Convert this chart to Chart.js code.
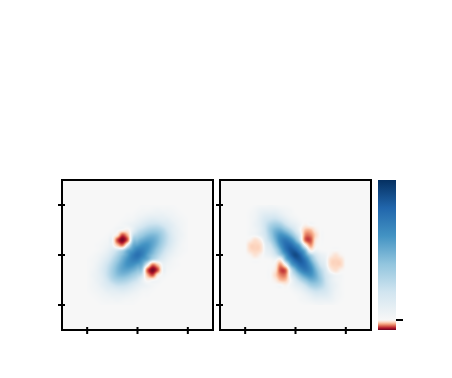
<!DOCTYPE html>
<html>
<head>
<meta charset="utf-8">
<title>Heatmaps</title>
<script src="https://cdn.jsdelivr.net/npm/chart.js@4"></script>
<style>
  body { margin: 0; background: #fff; }
  canvas { position: absolute; }
</style>
</head>
<body>
<canvas id="panelLeft" width="172" height="170" style="left:52px;top:170px;width:172px;height:170px"></canvas>
<canvas id="panelRight" width="172" height="170" style="left:210px;top:170px;width:172px;height:170px"></canvas>
<canvas id="colorBar" width="40" height="170" style="left:370px;top:170px;width:40px;height:170px"></canvas>
<script>
// axis ranges and ticks
const axisMin = -3;
const axisMax = 3;
const tickValues = [-2, 0, 2];

// sample positions of the grids below (rows go from top to bottom)
const gridX = [-2, -1.8, -1.6, -1.4, -1.2, -1, -0.8, -0.6, -0.4, -0.2, 0, 0.2, 0.4, 0.6, 0.8, 1, 1.2, 1.4, 1.6, 1.8, 2];
const gridY = [2, 1.8, 1.6, 1.4, 1.2, 1, 0.8, 0.6, 0.4, 0.2, 0, -0.2, -0.4, -0.6, -0.8, -1, -1.2, -1.4, -1.6, -1.8, -2];

// values: positive = blue, negative = red, 100 = end of the colour scale
const leftValues = [
  [0,0,0,0,0,0,0,0,0,0,0,1,1,1,1,1,1,1,0,0,0],
  [0,0,0,0,0,0,0,0,0,0,1,2,2,3,4,3,3,2,1,0,0],
  [0,0,0,0,0,0,0,0,1,1,3,4,6,7,7,7,5,4,2,1,0],
  [0,0,0,0,0,0,0,1,2,3,6,9,12,14,13,11,10,6,4,2,1],
  [0,0,0,0,0,0,1,2,4,7,11,16,21,23,23,19,14,10,5,3,1],
  [0,0,0,0,0,1,2,-3,-5,8,20,26,31,34,33,28,19,11,7,3,1],
  [0,0,0,0,1,2,-12,-65,-35,18,30,37,43,45,42,33,23,13,7,4,1],
  [0,0,0,1,2,2,-65,-95,-60,30,42,49,53,52,45,34,23,14,7,3,1],
  [0,0,1,2,4,4,-30,-55,3,46,54,60,60,53,43,31,21,12,6,2,1],
  [0,0,1,3,7,13,18,25,46,57,68,68,60,49,37,26,16,9,4,2,1],
  [0,1,3,6,11,20,30,42,54,68,75,68,54,42,30,20,11,6,3,1,0],
  [1,2,4,9,16,26,37,49,60,68,68,57,46,25,18,13,7,3,1,0,0],
  [1,2,6,12,21,31,43,53,60,60,54,46,3,-55,-30,4,4,2,1,0,0],
  [1,3,7,14,23,34,45,52,53,49,42,30,-60,-95,-65,2,2,1,0,0,0],
  [1,4,7,13,23,33,42,45,43,37,30,18,-35,-65,-12,2,1,0,0,0,0],
  [1,3,7,11,19,28,33,34,31,26,20,8,-5,-3,2,1,0,0,0,0,0],
  [1,3,5,10,14,19,23,23,21,16,11,7,4,2,1,0,0,0,0,0,0],
  [1,2,4,6,10,11,13,14,12,9,6,3,2,1,0,0,0,0,0,0,0],
  [0,1,2,4,5,7,7,7,6,4,3,1,1,0,0,0,0,0,0,0,0],
  [0,0,1,2,3,3,4,3,2,2,1,0,0,0,0,0,0,0,0,0,0],
  [0,0,0,1,1,1,1,1,1,1,0,0,0,0,0,0,0,0,0,0,0]
];

const rightValues = [
  [0,0,1,2,2,3,2,1,1,0,0,0,0,0,0,0,0,0,0,0,0],
  [0,1,3,6,7,7,7,5,3,2,0,0,0,0,0,0,0,0,0,0,0],
  [0,2,4,9,13,14,14,10,6,3,1,0,0,0,0,0,0,0,0,0,0],
  [0,2,5,11,18,22,24,20,13,7,4,1,0,0,0,0,0,0,0,0,0],
  [0,2,6,11,21,31,36,34,24,15,9,3,-5,0,0,0,0,0,0,0,0],
  [0,2,4,10,21,36,46,48,40,29,16,0,-30,-30,-8,0,0,0,0,0,0],
  [0,2,3,9,19,34,50,60,57,46,29,8,-50,-50,-20,0,0,0,0,0,0],
  [0,-5,-16,-6,15,29,47,65,72,64,46,15,-60,-65,-12,0,0,0,0,0,0],
  [0,-20,-22,-18,9,20,39,60,76,78,65,45,-5,-45,-5,0,0,0,0,0,0],
  [0,-18,-22,-18,6,13,28,49,72,84,81,64,40,-8,3,1,0,0,0,0,0],
  [0,-4,-14,-5,4,8,18,34,57,80,90,80,57,34,18,8,4,-5,-14,-4,0],
  [0,0,0,0,0,1,3,-8,40,64,81,84,72,49,28,13,6,-18,-22,-18,0],
  [0,0,0,0,0,0,-5,-45,-5,45,65,78,76,60,39,20,9,-18,-22,-20,0],
  [0,0,0,0,0,0,-12,-65,-60,15,46,64,72,65,47,29,15,-6,-16,-5,0],
  [0,0,0,0,0,0,-20,-50,-50,8,29,46,57,60,50,34,19,9,3,2,0],
  [0,0,0,0,0,0,-8,-30,-30,0,16,29,40,48,46,36,21,10,4,2,0],
  [0,0,0,0,0,0,0,0,-5,3,9,15,24,34,36,31,21,11,6,2,0],
  [0,0,0,0,0,0,0,0,0,1,4,7,13,20,24,22,18,11,5,2,0],
  [0,0,0,0,0,0,0,0,0,0,1,3,6,10,14,14,13,9,4,2,0],
  [0,0,0,0,0,0,0,0,0,0,0,2,3,5,7,7,7,6,3,1,0],
  [0,0,0,0,0,0,0,0,0,0,0,0,1,1,2,3,2,2,1,0,0]
];

// colour scale
const levelValues = [-100, -80, -60, -40, -20, 0, 20, 40, 60, 80, 100];
const levelColors = ['#67001f', '#b2182b', '#d6604d', '#f4a582', '#fddbc7', '#f7f7f7', '#d1e5f0', '#92c5de', '#4393c3', '#2166ac', '#053061'];

// colour bar range and tick
const barMin = -0.0714;
const barMax = 1;
const barTicks = [0];

const levelRgb = levelColors.map(c => [1, 3, 5].map(i => parseInt(c.slice(i, i + 2), 16)));

function colorFor(v) {
    const t = Math.max(0, Math.min(9.999, (v + 100) / 20));
    const i = Math.floor(t);
    const f = t - i;
    return levelRgb[i].map((c, k) => c + (levelRgb[i + 1][k] - c) * f);
}

// catmull-rom weights, same idea as imshow with interpolation='bicubic'
function cubicWeights(f) {
    return [
        -0.5 * f + f * f - 0.5 * f * f * f,
        1 - 2.5 * f * f + 1.5 * f * f * f,
        0.5 * f + 2 * f * f - 1.5 * f * f * f,
        -0.5 * f * f + 0.5 * f * f * f
    ];
}

function sampleGrid(values, gx, gy) {
    const last = values.length - 1;
    if (gx < 0 || gy < 0 || gx >= last || gy >= last) return 0;
    const i = Math.floor(gx), j = Math.floor(gy);
    const wx = cubicWeights(gx - i), wy = cubicWeights(gy - j);
    let v = 0;
    for (let b = 0; b < 4; b++) {
        const row = values[Math.max(0, Math.min(last, j + b - 1))];
        for (let a = 0; a < 4; a++) {
            v += wy[b] * wx[a] * row[Math.max(0, Math.min(last, i + a - 1))];
        }
    }
    return v;
}

// paints the grid pixel by pixel, positions come from the scales
const heatmapPlugin = {
    id: 'heatmap',
    beforeDatasetsDraw(chart) {
        const { ctx, chartArea, scales } = chart;
        const values = chart.data.datasets[0].values;
        const w = Math.round(chartArea.right - chartArea.left);
        const h = Math.round(chartArea.bottom - chartArea.top);
        const img = ctx.createImageData(w, h);
        const step = gridX[1] - gridX[0];

        for (let py = 0; py < h; py++) {
            const gy = (gridY[0] - scales.y.getValueForPixel(chartArea.top + py + 0.5)) / step;
            for (let px = 0; px < w; px++) {
                const gx = (scales.x.getValueForPixel(chartArea.left + px + 0.5) - gridX[0]) / step;
                const rgb = colorFor(sampleGrid(values, gx, gy));
                const o = (py * w + px) * 4;
                img.data[o] = rgb[0];
                img.data[o + 1] = rgb[1];
                img.data[o + 2] = rgb[2];
                img.data[o + 3] = 255;
            }
        }
        ctx.putImageData(img, chartArea.left, chartArea.top);
    }
};

// frame and tick marks that cross the axis line
const framePlugin = {
    id: 'frame',
    afterDraw(chart) {
        const { ctx, chartArea, scales } = chart;
        ctx.save();
        ctx.strokeStyle = '#000';
        ctx.lineWidth = 2;
        ctx.strokeRect(chartArea.left, chartArea.top, chartArea.right - chartArea.left, chartArea.bottom - chartArea.top);
        ctx.beginPath();
        tickValues.forEach(v => {
            const x = scales.x.getPixelForValue(v);
            const y = scales.y.getPixelForValue(v);
            ctx.moveTo(x, chartArea.bottom - 3);
            ctx.lineTo(x, chartArea.bottom + 4);
            ctx.moveTo(chartArea.left - 4, y);
            ctx.lineTo(chartArea.left + 3, y);
        });
        ctx.stroke();
        ctx.restore();
    }
};

function drawPanel(canvasId, values, padding) {
    new Chart(document.getElementById(canvasId), {
        type: 'scatter',
        data: {
            datasets: [{
                values: values,
                data: gridY.flatMap((y, j) => gridX.map((x, i) => ({ x: x, y: y, v: values[j][i] }))),
                pointRadius: 0
            }]
        },
        options: {
            responsive: false,
            animation: false,
            layout: { padding: padding },
            plugins: { legend: { display: false }, tooltip: { enabled: false } },
            scales: {
                x: { type: 'linear', min: axisMin, max: axisMax, display: false },
                y: { type: 'linear', min: axisMin, max: axisMax, display: false }
            }
        },
        plugins: [heatmapPlugin, framePlugin]
    });
}

function barGradient(context) {
    const { ctx, chartArea, scales } = context.chart;
    if (!chartArea) return '#f7f7f7';
    const g = ctx.createLinearGradient(0, chartArea.bottom, 0, chartArea.top);
    levelValues.forEach((v, i) => {
        const barValue = v < 0 ? -v / 100 * barMin : v / 100 * barMax;
        const y = scales.y.getPixelForValue(barValue);
        g.addColorStop((chartArea.bottom - y) / (chartArea.bottom - chartArea.top), levelColors[i]);
    });
    return g;
}

function drawColorBar() {
    new Chart(document.getElementById('colorBar'), {
        type: 'bar',
        data: {
            labels: [''],
            datasets: [{
                data: [[barMin, barMax]],
                backgroundColor: barGradient,
                borderWidth: 0,
                barPercentage: 1,
                categoryPercentage: 1
            }]
        },
        options: {
            responsive: false,
            animation: false,
            layout: { padding: { left: 8, right: 14, top: 10, bottom: 10 } },
            plugins: { legend: { display: false }, tooltip: { enabled: false } },
            scales: {
                x: { display: false },
                y: { min: barMin, max: barMax, display: false }
            }
        },
        plugins: [{
            id: 'barTick',
            afterDraw(chart) {
                const { ctx, chartArea, scales } = chart;
                ctx.save();
                ctx.strokeStyle = '#000';
                ctx.lineWidth = 2;
                ctx.beginPath();
                barTicks.forEach(v => {
                    const y = scales.y.getPixelForValue(v);
                    ctx.moveTo(chartArea.right, y);
                    ctx.lineTo(chartArea.right + 7, y);
                });
                ctx.stroke();
                ctx.restore();
            }
        }]
    });
}

drawPanel('panelLeft', leftValues, { left: 10, right: 11, top: 10, bottom: 10 });
drawPanel('panelRight', rightValues, { left: 10, right: 11, top: 10, bottom: 10 });
drawColorBar();
</script>
</body>
</html>
